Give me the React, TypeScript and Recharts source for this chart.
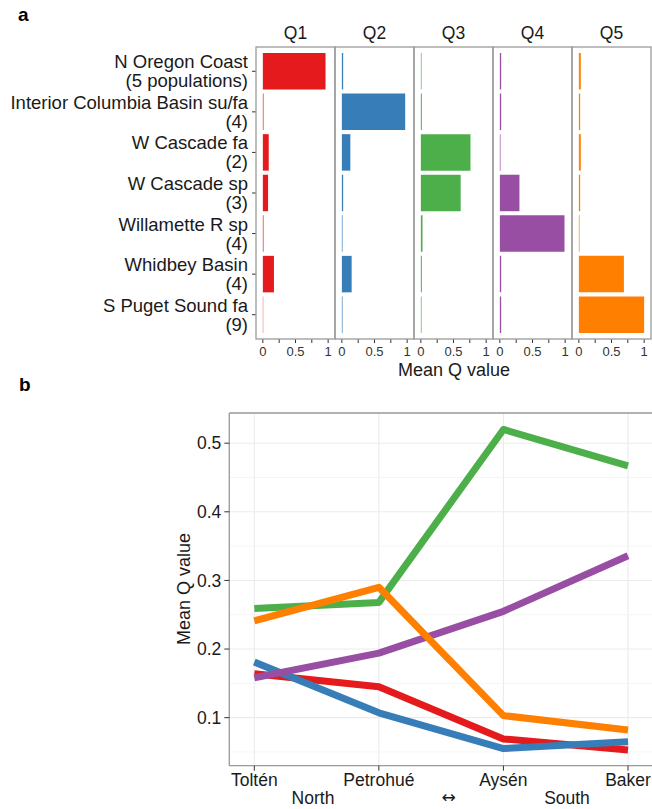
import React from "react";
import {
  BarChart,
  Bar,
  XAxis,
  YAxis,
  LineChart,
  Line,
  CartesianGrid,
  ReferenceLine,
} from "recharts";

// panel a: mean Q per reporting group
const groups = [
  "N Oregon Coast",
  "Interior Columbia Basin su/fa",
  "W Cascade fa",
  "W Cascade sp",
  "Willamette R sp",
  "Whidbey Basin",
  "S Puget Sound fa",
];
const groupCounts = ["(5 populations)", "(4)", "(2)", "(3)", "(4)", "(4)", "(9)"];
const clusters = ["Q1", "Q2", "Q3", "Q4", "Q5"];
const q1Means = [0.96, 0.01, 0.09, 0.08, 0.01, 0.17, 0.005];
const q2Means = [0.02, 0.97, 0.13, 0.02, 0.01, 0.15, 0.01];
const q3Means = [0.01, 0.015, 0.76, 0.61, 0.025, 0.015, 0.01];
const q4Means = [0.02, 0.02, 0.01, 0.3, 0.99, 0.02, 0.02];
const q5Means = [0.03, 0.02, 0.03, 0.02, 0.01, 0.69, 1.0];
const barTicks = [0, 0.25, 0.5, 0.75, 1];

// panel b: mean Q per river, north to south
const sites = ["Toltén", "Petrohué", "Aysén", "Baker"];
const q1Line = [0.164, 0.145, 0.069, 0.053];
const q2Line = [0.181, 0.107, 0.055, 0.065];
const q3Line = [0.259, 0.268, 0.52, 0.467];
const q4Line = [0.158, 0.194, 0.255, 0.336];
const q5Line = [0.241, 0.29, 0.103, 0.082];
const lineTicks = [0.1, 0.2, 0.3, 0.4, 0.5];
const minorTicks = [0.05, 0.15, 0.25, 0.35, 0.45];

const colors = ["#E41A1C", "#377EB8", "#4DAF4A", "#984EA3", "#FF7F00"];
const FONT = "'Liberation Sans', Arial, Helvetica, sans-serif";
const BORDER = "#9a9a9a";
const TEXT = "#1a1a1a";

const barRows = groups.map((g, i) => ({
  group: g,
  Q1: q1Means[i],
  Q2: q2Means[i],
  Q3: q3Means[i],
  Q4: q4Means[i],
  Q5: q5Means[i],
}));

const lineSeries = [q1Line, q2Line, q3Line, q4Line, q5Line];
const lineRows = sites.map((s, i) => {
  const row: Record<string, string | number> = { site: s };
  clusters.forEach((c, k) => (row[c] = lineSeries[k][i]));
  return row;
});

const panelEdges = [256, 335, 414, 493, 572, 651];
const PANEL_TOP = 47;
const PANEL_H = 292;
const X_DOMAIN: [number, number] = [-0.105, 1.105];
const Y_DOMAIN: [number, number] = [0.03, 0.544];

function GroupTick(props: any) {
  const { x, y, payload } = props;
  const i = groups.indexOf(payload.value);
  return (
    <text x={x} y={y} textAnchor="end" fontSize={18.5} fill={TEXT} fontFamily={FONT}>
      <tspan x={x} dy={-3}>{payload.value}</tspan>
      <tspan x={x} dy={19}>{groupCounts[i]}</tspan>
    </text>
  );
}

function Facet({ idx }: { idx: number }) {
  const first = idx === 0;
  const panelW = panelEdges[idx + 1] - panelEdges[idx];
  const yW = first ? panelEdges[0] : 0;
  return (
    <div style={{ position: "absolute", left: first ? 0 : panelEdges[idx], top: PANEL_TOP }}>
      <BarChart
        width={yW + panelW}
        height={PANEL_H + 30}
        data={barRows}
        layout="vertical"
        margin={{ top: 0, right: 0, bottom: 0, left: 0 }}
      >
        <XAxis
          type="number"
          domain={X_DOMAIN}
          allowDataOverflow
          ticks={barTicks}
          interval={0}
          height={30}
          tickSize={4}
          tickMargin={4}
          axisLine={false}
          tickLine={{ stroke: "#333" }}
          tick={{ fill: "#333", fontSize: 13, fontFamily: FONT }}
          tickFormatter={(v) => (v === 0.25 || v === 0.75 ? "" : String(v))}
        />
        <YAxis
          type="category"
          dataKey="group"
          width={yW}
          hide={!first}
          interval={0}
          padding={{ top: 4, bottom: 4 }}
          axisLine={false}
          tickSize={4}
          tickMargin={4}
          tickLine={{ stroke: "#333" }}
          tick={<GroupTick />}
        />
        <Bar
          dataKey={clusters[idx]}
          fill={colors[idx]}
          barSize={36.5}
          isAnimationActive={false}
        />
      </BarChart>
    </div>
  );
}

export default function App() {
  return (
    <div
      style={{
        position: "absolute",
        left: 0,
        top: 0,
        width: 652,
        height: 809,
        overflow: "hidden",
        background: "#fff",
        fontFamily: FONT,
      }}
    >
      {clusters.map((_, i) => (
        <Facet key={i} idx={i} />
      ))}

      <div style={{ position: "absolute", left: 0, top: 400 }}>
        <LineChart
          width={680}
          height={409}
          data={lineRows}
          margin={{ top: 13, right: 27, bottom: 0, left: 0 }}
        >
          {minorTicks.map((v) => (
            <ReferenceLine key={v} y={v} stroke="#f3f3f3" strokeWidth={0.8} />
          ))}
          <CartesianGrid stroke="#ebebeb" strokeWidth={1.1} />
          <XAxis
            dataKey="site"
            padding={{ left: 25, right: 25 }}
            height={43.3}
            interval={0}
            tickSize={5}
            tickMargin={2.6}
            axisLine={{ stroke: BORDER, strokeWidth: 1.3 }}
            tickLine={{ stroke: "#333" }}
            tick={{ fill: TEXT, fontSize: 17.5, fontFamily: FONT }}
          />
          <YAxis
            domain={Y_DOMAIN}
            allowDataOverflow
            ticks={lineTicks}
            interval={0}
            width={229.3}
            tickSize={5}
            tickMargin={3}
            axisLine={{ stroke: BORDER, strokeWidth: 1.3 }}
            tickLine={{ stroke: "#333" }}
            tick={{ fill: TEXT, fontSize: 17.5, fontFamily: FONT }}
          />
          <ReferenceLine y={Y_DOMAIN[1]} stroke={BORDER} strokeWidth={1.3} />
          {clusters.map((c, i) => (
            <Line
              key={c}
              dataKey={c}
              stroke={colors[i]}
              strokeWidth={7}
              strokeLinejoin="round"
              strokeLinecap="butt"
              dot={false}
              activeDot={false}
              isAnimationActive={false}
            />
          ))}
        </LineChart>
      </div>

      <svg
        width={652}
        height={809}
        style={{ position: "absolute", left: 0, top: 0, pointerEvents: "none" }}
        fontFamily={FONT}
      >
        <text x={18} y={21} fontSize={19} fontWeight="bold" fill="#000">a</text>
        <text x={19} y={391} fontSize={19} fontWeight="bold" fill="#000">b</text>
        {clusters.map((c, i) => (
          <g key={c}>
            <rect
              x={panelEdges[i]}
              y={PANEL_TOP}
              width={panelEdges[i + 1] - panelEdges[i]}
              height={PANEL_H}
              fill="none"
              stroke={BORDER}
              strokeWidth={1.3}
            />
            <text
              x={(panelEdges[i] + panelEdges[i + 1]) / 2}
              y={39}
              textAnchor="middle"
              fontSize={17.5}
              fill={TEXT}
            >
              {c}
            </text>
          </g>
        ))}
        <text x={454} y={376} textAnchor="middle" fontSize={18} fill={TEXT}>
          Mean Q value
        </text>
        <text
          x={190}
          y={589}
          textAnchor="middle"
          fontSize={18}
          fill={TEXT}
          transform="rotate(-90 190 589)"
        >
          Mean Q value
        </text>
        <text x={313} y={804} textAnchor="middle" fontSize={17.5} fill={TEXT}>North</text>
        <text
          x={448.5}
          y={803}
          textAnchor="middle"
          fontSize={17}
          fill={TEXT}
          fontFamily="'DejaVu Sans', sans-serif"
        >
          ↔
        </text>
        <text x={567} y={804} textAnchor="middle" fontSize={17.5} fill={TEXT}>South</text>
      </svg>
    </div>
  );
}
